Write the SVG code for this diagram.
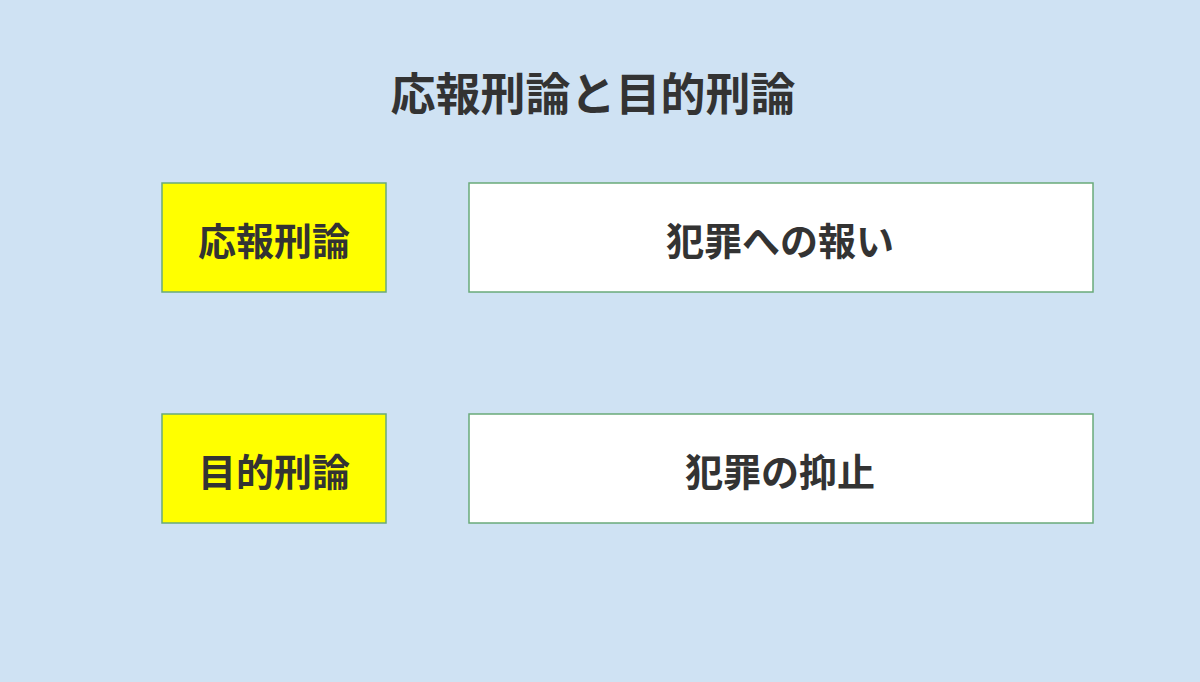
<svg xmlns="http://www.w3.org/2000/svg" width="1200" height="682" viewBox="0 0 1200 682">
<style>
text{font-family:"Noto Sans CJK JP","Noto Sans",sans-serif;font-weight:bold;fill:#333333;text-anchor:middle;dominant-baseline:central}
.y{fill:#ffff00;stroke:#6aaa7a;stroke-width:1.5}
.w{fill:#ffffff;stroke:#6aaa7a;stroke-width:1.5}
.t{font-size:38px}
</style>
<rect width="1200" height="682" fill="#cfe2f3"/>
<text x="593" y="91" font-size="45">応報刑論と目的刑論</text>
<g id="n1"><rect class="y" x="162" y="183" width="224" height="109"/><text class="t" x="274" y="238">応報刑論</text></g>
<g id="n2"><rect class="w" x="469" y="183" width="624" height="109"/><text class="t" x="780" y="238">犯罪への報い</text></g>
<g id="n3"><rect class="y" x="162" y="414" width="224" height="109"/><text class="t" x="274" y="469">目的刑論</text></g>
<g id="n4"><rect class="w" x="469" y="414" width="624" height="109"/><text class="t" x="780" y="469">犯罪の抑止</text></g>
<g id="connectors"/>
</svg>
